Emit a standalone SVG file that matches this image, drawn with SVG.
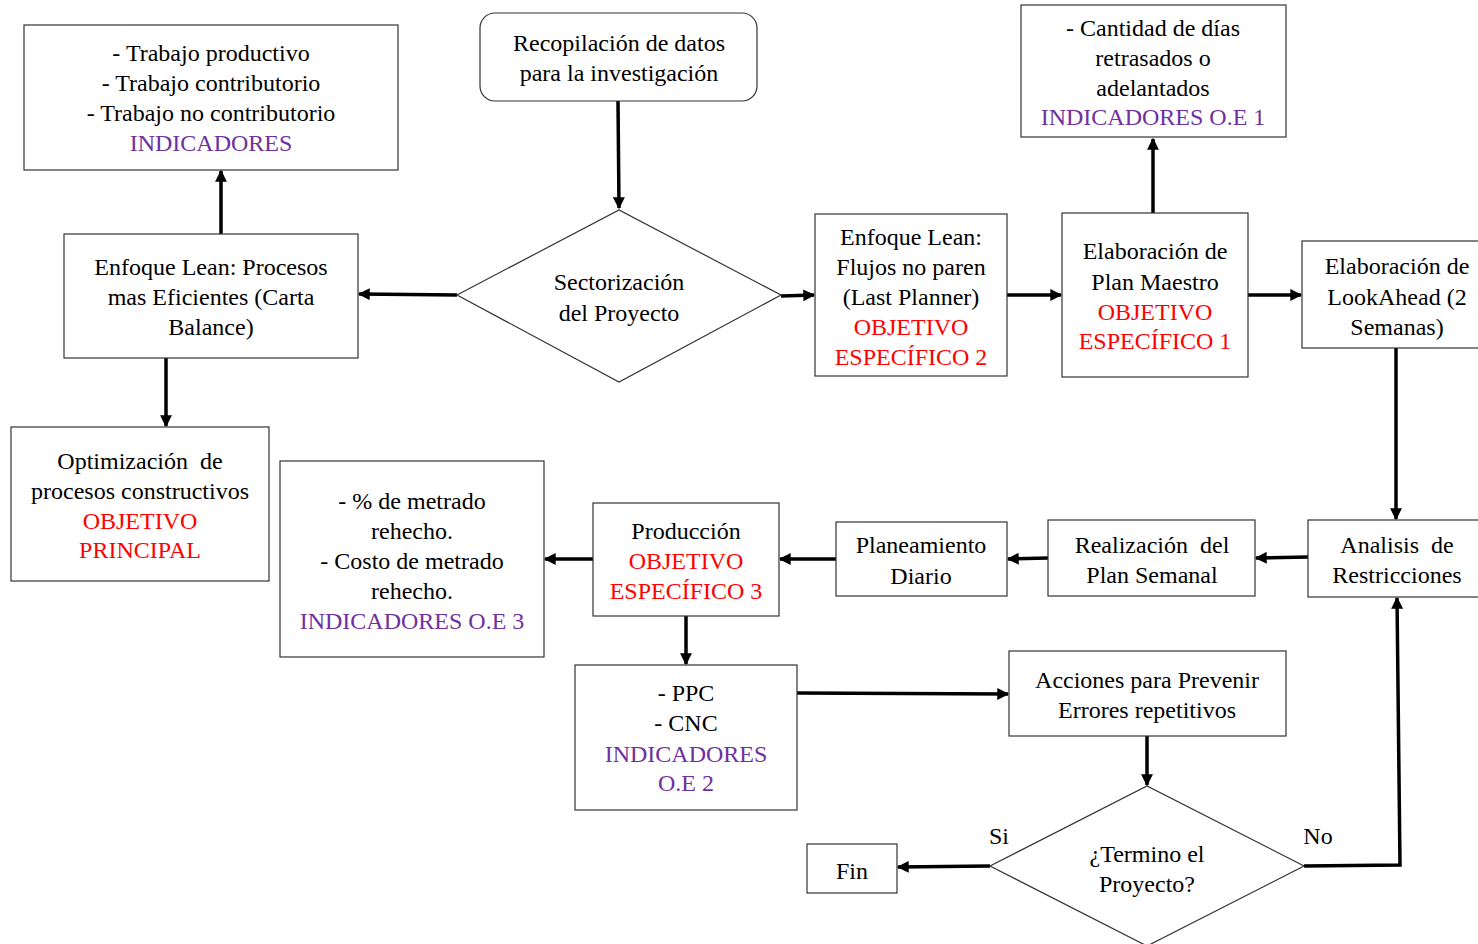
<svg xmlns="http://www.w3.org/2000/svg" width="1478" height="944" viewBox="0 0 1478 944" font-family="Liberation Serif, DejaVu Serif, Times New Roman, serif">
<defs>
<marker id="ah" viewBox="0 0 10 10" refX="9" refY="5" markerWidth="3.6" markerHeight="3.4" orient="auto" markerUnits="strokeWidth">
<path d="M0,0 L10,5 L0,10 z" fill="#000"/>
</marker>
</defs>
<style>
.box{fill:#fff;stroke:#333;stroke-width:1.2}
.t{font-size:24px;fill:#000;text-anchor:middle;dominant-baseline:central}
.r{fill:#ff0000}
.p{fill:#7030a0}
.c{fill:none;stroke:#000;stroke-width:3.5;marker-end:url(#ah)}
</style>
<rect width="1478" height="944" fill="#fff"/>
<g id="connectors">
<line class="c" x1="618" y1="101" x2="619" y2="208"/>
<line class="c" x1="457" y1="295" x2="359" y2="294"/>
<line class="c" x1="221" y1="234" x2="221" y2="171"/>
<line class="c" x1="166" y1="358" x2="166" y2="426"/>
<line class="c" x1="781" y1="296" x2="814" y2="295"/>
<line class="c" x1="1007" y1="295" x2="1061" y2="295"/>
<line class="c" x1="1153" y1="213" x2="1153" y2="139"/>
<line class="c" x1="1248" y1="295" x2="1301" y2="295"/>
<line class="c" x1="1396" y1="348" x2="1396" y2="519"/>
<line class="c" x1="1308" y1="557" x2="1256" y2="558"/>
<line class="c" x1="1048" y1="558" x2="1008" y2="559"/>
<line class="c" x1="836" y1="559" x2="780" y2="559"/>
<line class="c" x1="593" y1="559" x2="545" y2="559"/>
<line class="c" x1="686" y1="616" x2="686" y2="664"/>
<line class="c" x1="797" y1="693" x2="1008" y2="694"/>
<line class="c" x1="1147" y1="736" x2="1147" y2="785"/>
<line class="c" x1="990" y1="866" x2="898" y2="867"/>
<polyline class="c" points="1304,866 1400,865 1397,598"/>
</g>
<g id="ind0">
<rect class="box" x="24" y="25" width="374" height="145"/>
<text class="t" x="211" y="53">- Trabajo productivo</text>
<text class="t" x="211" y="83">- Trabajo contributorio</text>
<text class="t" x="211" y="113">- Trabajo no contributorio</text>
<text class="t p" x="211" y="143">INDICADORES</text>
</g>
<g id="recop">
<rect class="box" x="480" y="13" width="277" height="88" rx="15"/>
<text class="t" x="619" y="43">Recopilación de datos</text>
<text class="t" x="619" y="73">para la investigación</text>
</g>
<g id="lean1">
<rect class="box" x="64" y="234" width="294" height="124"/>
<text class="t" x="211" y="267">Enfoque Lean: Procesos</text>
<text class="t" x="211" y="297">mas Eficientes (Carta</text>
<text class="t" x="211" y="327">Balance)</text>
</g>
<g id="sector">
<polygon class="box" points="457,295 619,210 781,295 619,382"/>
<text class="t" x="619" y="282">Sectorización</text>
<text class="t" x="619" y="313">del Proyecto</text>
</g>
<g id="lean2">
<rect class="box" x="815" y="214" width="192" height="162"/>
<text class="t" x="911" y="237">Enfoque Lean:</text>
<text class="t" x="911" y="267">Flujos no paren</text>
<text class="t" x="911" y="297">(Last Planner)</text>
<text class="t r" x="911" y="327">OBJETIVO</text>
<text class="t r" x="911" y="357">ESPECÍFICO 2</text>
</g>
<g id="ind1">
<rect class="box" x="1021" y="5" width="265" height="132"/>
<text class="t" x="1153" y="28">- Cantidad de días</text>
<text class="t" x="1153" y="58">retrasados o</text>
<text class="t" x="1153" y="88">adelantados</text>
<text class="t p" x="1153" y="117">INDICADORES O.E 1</text>
</g>
<g id="maestro">
<rect class="box" x="1062" y="213" width="186" height="164"/>
<text class="t" x="1155" y="251">Elaboración de</text>
<text class="t" x="1155" y="282">Plan Maestro</text>
<text class="t r" x="1155" y="312">OBJETIVO</text>
<text class="t r" x="1155" y="341">ESPECÍFICO 1</text>
</g>
<g id="lookahead">
<rect class="box" x="1302" y="241" width="190" height="107"/>
<text class="t" x="1397" y="266">Elaboración de</text>
<text class="t" x="1397" y="297">LookAhead (2</text>
<text class="t" x="1397" y="327">Semanas)</text>
</g>
<g id="optim">
<rect class="box" x="11" y="427" width="258" height="154"/>
<text class="t" x="140" y="461" xml:space="preserve">Optimización  de</text>
<text class="t" x="140" y="491">procesos constructivos</text>
<text class="t r" x="140" y="521">OBJETIVO</text>
<text class="t r" x="140" y="550">PRINCIPAL</text>
</g>
<g id="ind3">
<rect class="box" x="280" y="461" width="264" height="196"/>
<text class="t" x="412" y="501">- % de metrado</text>
<text class="t" x="412" y="531">rehecho.</text>
<text class="t" x="412" y="561">- Costo de metrado</text>
<text class="t" x="412" y="591">rehecho.</text>
<text class="t p" x="412" y="621">INDICADORES O.E 3</text>
</g>
<g id="produccion">
<rect class="box" x="593" y="503" width="186" height="113"/>
<text class="t" x="686" y="531">Producción</text>
<text class="t r" x="686" y="561">OBJETIVO</text>
<text class="t r" x="686" y="591">ESPECÍFICO 3</text>
</g>
<g id="diario">
<rect class="box" x="836" y="522" width="171" height="74"/>
<text class="t" x="921" y="545">Planeamiento</text>
<text class="t" x="921" y="576">Diario</text>
</g>
<g id="semanal">
<rect class="box" x="1048" y="520" width="207" height="76"/>
<text class="t" x="1152" y="545" xml:space="preserve">Realización  del</text>
<text class="t" x="1152" y="575">Plan Semanal</text>
</g>
<g id="restric">
<rect class="box" x="1308" y="520" width="180" height="77"/>
<text class="t" x="1397" y="545" xml:space="preserve">Analisis  de</text>
<text class="t" x="1397" y="575">Restricciones</text>
</g>
<g id="ind2">
<rect class="box" x="575" y="665" width="222" height="145"/>
<text class="t" x="686" y="693">- PPC</text>
<text class="t" x="686" y="723">- CNC</text>
<text class="t p" x="686" y="754">INDICADORES</text>
<text class="t p" x="686" y="783">O.E 2</text>
</g>
<g id="acciones">
<rect class="box" x="1009" y="651" width="277" height="85"/>
<text class="t" x="1147" y="680">Acciones para Prevenir</text>
<text class="t" x="1147" y="710">Errores repetitivos</text>
</g>
<g id="termino">
<polygon class="box" points="990,866 1147,786 1304,866 1147,946"/>
<text class="t" x="1147" y="854">¿Termino el</text>
<text class="t" x="1147" y="884">Proyecto?</text>
</g>
<g id="fin">
<rect class="box" x="807" y="844" width="90" height="49"/>
<text class="t" x="852" y="871">Fin</text>
</g>
<g id="labels">
<text class="t" x="999" y="836">Si</text>
<text class="t" x="1318" y="836">No</text>
</g>
</svg>
